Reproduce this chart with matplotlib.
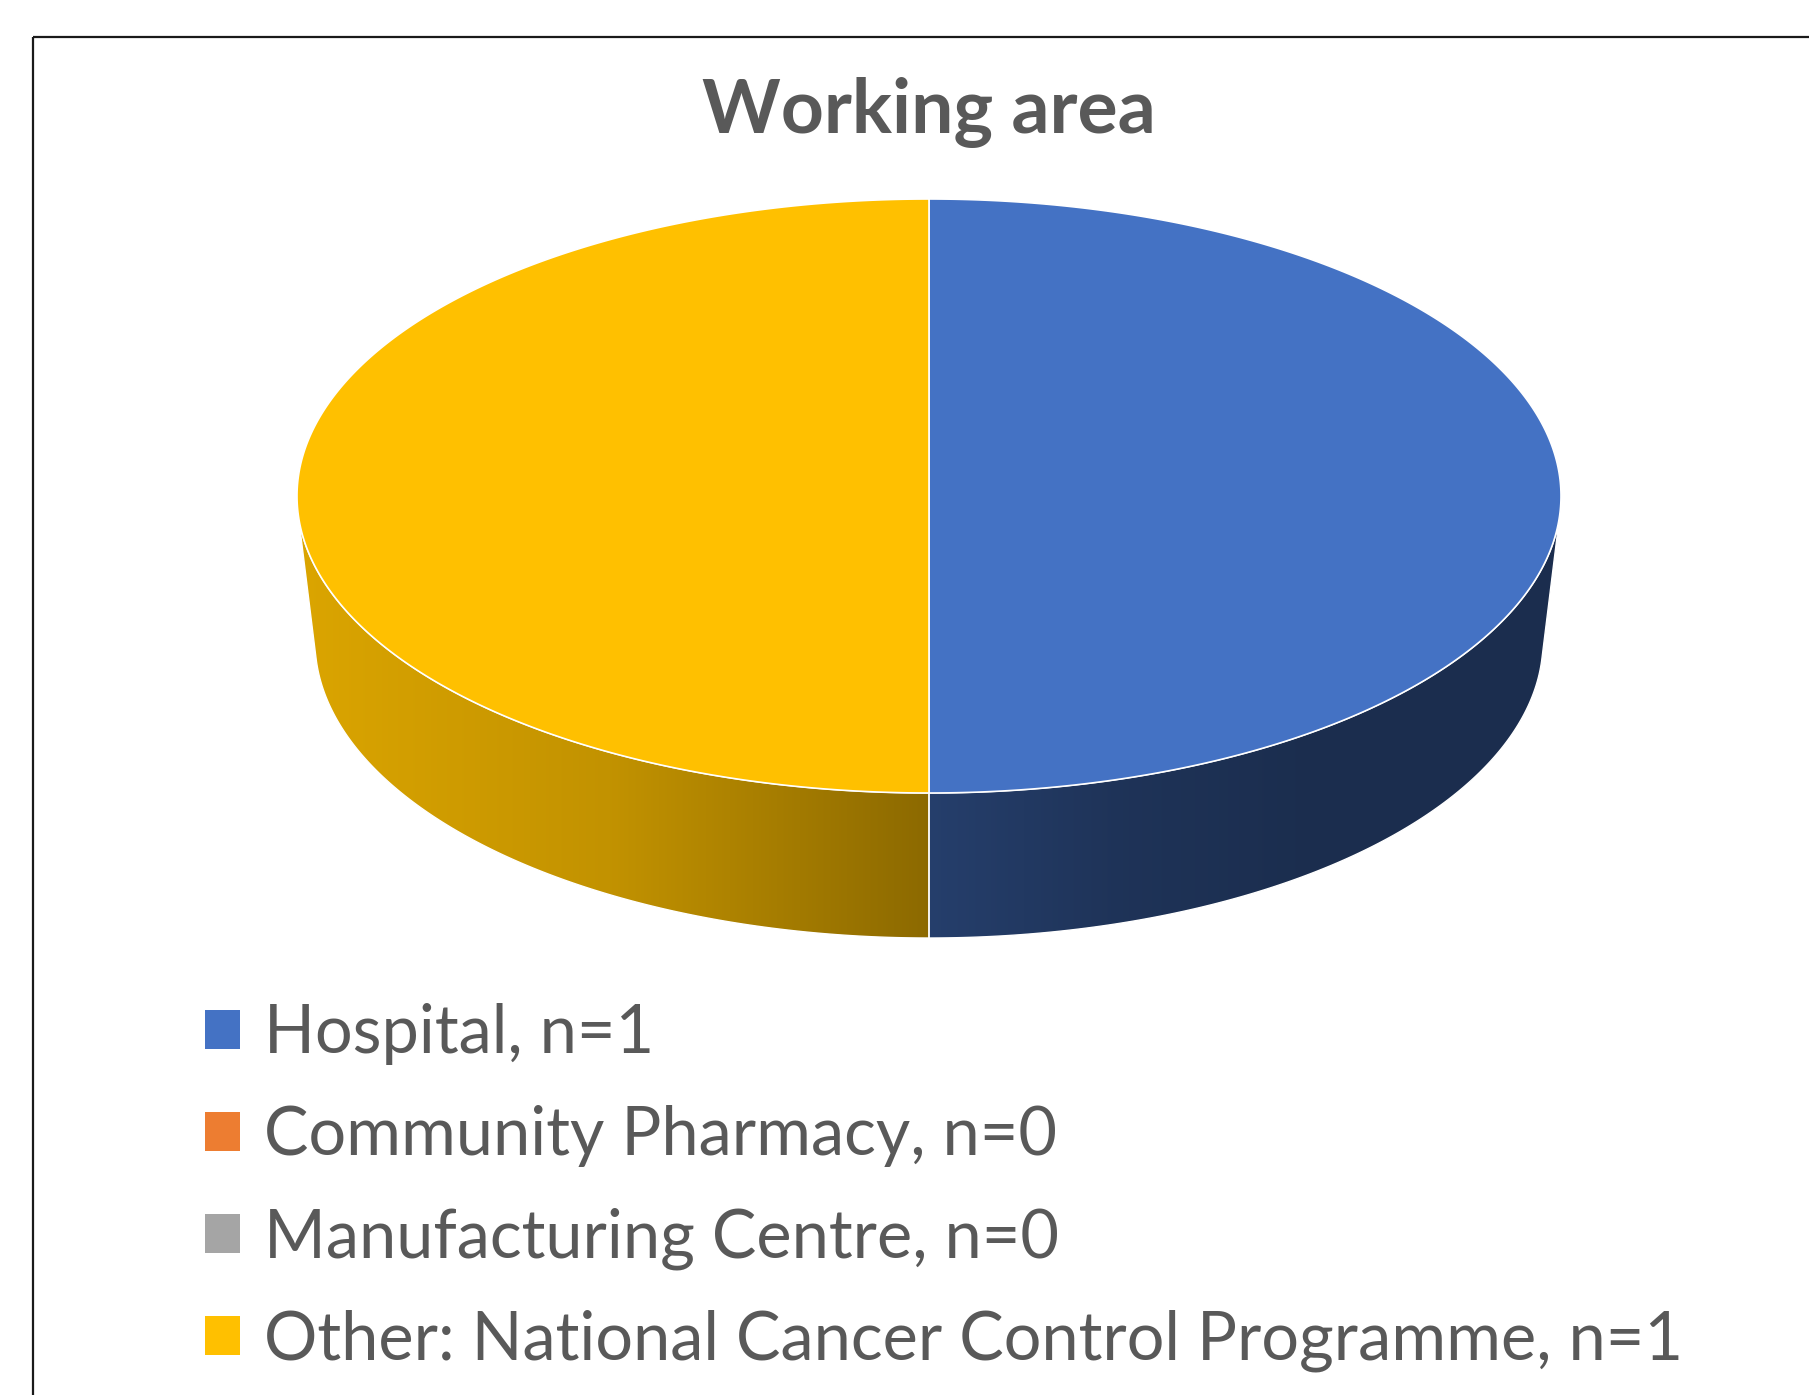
import matplotlib.pyplot as plt
import numpy as np
from matplotlib.colors import to_rgb
from matplotlib.patches import Polygon, Patch, Rectangle

# data
categories = ["Hospital", "Community Pharmacy", "Manufacturing Centre",
              "Other: National Cancer Control Programme"]
counts = [1, 0, 0, 1]
slice_colors = ["#4472C4", "#ED7D31", "#A5A5A5", "#FFC000"]
title = "Working area"

W, H = 1809, 1395
text_color = "#595959"

# pie geometry (pixels, y down)
cx, cy, a, b = 929, 496, 632, 297
depth = 145
a2, b2 = 614, 297  # bottom ellipse a bit narrower (perspective)
cy2 = cy + depth

# side shading vs. normalised x position
shade_u = [-1.0, -0.5, 0.0, 0.3, 0.6, 1.0]
shade_f = [0.86, 0.76, 0.55, 0.45, 0.40, 0.40]


def top_pt(t):
    return cx + a * np.sin(t), cy - b * np.cos(t)


def bot_pt(t):
    return cx + a2 * np.sin(t), cy2 - b2 * np.cos(t)


# common tangent of top and bottom ellipse on the right side (dx/dy = k < 0)
ks = np.linspace(-2, -1e-4, 20001)
gap = np.sqrt(a**2 + ks**2 * b**2) - np.sqrt(a2**2 + ks**2 * b2**2) + ks * depth
k = ks[np.argmin(np.abs(gap))]
t_top = np.arctan2(a, k * b)
t_bot = np.arctan2(a2, k * b2)

fig = plt.figure(figsize=(W / 100, H / 100), dpi=100)
ax = fig.add_axes([0, 0, 1, 1])
ax.set_xlim(0, W)
ax.set_ylim(H, 0)
ax.axis("off")

# outer frame
ax.add_patch(Rectangle((33, 37), W, H, fill=False, edgecolor="#1a1a1a", lw=1.6))

total = sum(counts)
frac = np.array(counts) / total
starts = np.concatenate([[0], np.cumsum(frac)[:-1]]) * 2 * np.pi
ends = np.cumsum(frac) * 2 * np.pi

# sides first
for t0, t1, col, v in zip(starts, ends, slice_colors, counts):
    if v == 0:
        continue
    u0, u1 = max(t0, t_top), min(t1, 2 * np.pi - t_top)
    w0, w1 = max(t0, t_bot), min(t1, 2 * np.pi - t_bot)
    if u1 <= u0 or w1 <= w0:
        continue
    tx, ty = top_pt(np.linspace(u0, u1, 200))
    bx, by = bot_pt(np.linspace(w1, w0, 200))
    poly = Polygon(np.column_stack([np.r_[tx, bx], np.r_[ty, by]]),
                   closed=True, facecolor="none", edgecolor="none")
    ax.add_patch(poly)
    x0, x1 = min(tx.min(), bx.min()), max(tx.max(), bx.max())
    y0, y1 = ty.min(), by.max()
    xs = np.linspace(x0, x1, 400)
    f = np.interp((xs - cx) / a, shade_u, shade_f)
    rgb = np.array(to_rgb(col))
    img = np.clip(f[None, :, None] * rgb[None, None, :], 0, 1)
    img = np.repeat(img, 2, axis=0)
    im = ax.imshow(img, extent=(x0, x1, y1, y0), interpolation="bilinear",
                   aspect="auto", zorder=1)
    im.set_clip_path(poly)
    ax.add_patch(Polygon(poly.get_xy(), closed=True, facecolor="none",
                         edgecolor="white", lw=1.0, zorder=2))

# top faces
for t0, t1, col, v in zip(starts, ends, slice_colors, counts):
    if v == 0:
        continue
    ts = np.linspace(t0, t1, 300)
    tx, ty = top_pt(ts)
    pts = np.column_stack([np.r_[cx, tx], np.r_[cy, ty]])
    ax.add_patch(Polygon(pts, closed=True, facecolor=col, edgecolor="white",
                         lw=1.2, zorder=3))

ax.text(929, 113, title, ha="center", va="center", fontsize=54,
        fontweight="bold", color=text_color, family="Lato")

handles = [Patch(facecolor=c, edgecolor="none") for c in slice_colors]
labels = [f"{c}, n={n}" for c, n in zip(categories, counts)]
leg = ax.legend(handles, labels, loc="upper left",
                bbox_to_anchor=(205 / W, 1 - 1003 / H),
                frameon=False, handlelength=0.52,
                handleheight=0.52, handletextpad=0.36, labelspacing=0.6,
                borderaxespad=0, borderpad=0,
                prop={"family": "Lato", "size": 48})
for t in leg.get_texts():
    t.set_color(text_color)

fig.savefig("out.png", dpi=100, facecolor="white")
